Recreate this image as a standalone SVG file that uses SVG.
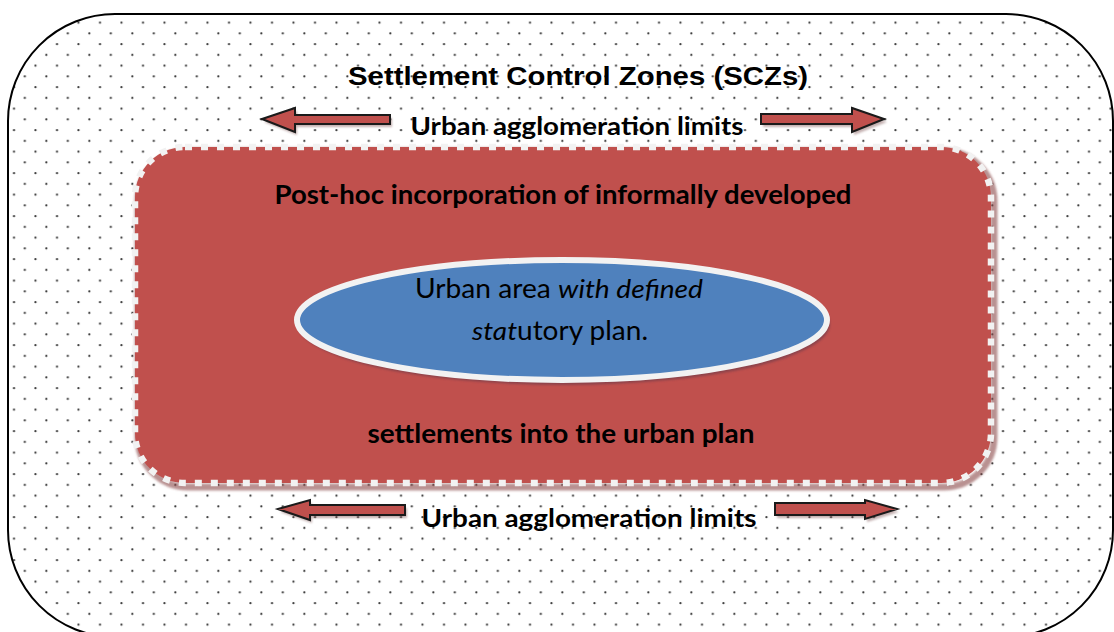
<svg xmlns="http://www.w3.org/2000/svg" width="1114" height="632" viewBox="0 0 1114 632">
<defs>
<pattern id="dots" patternUnits="userSpaceOnUse" x="0" y="0" width="21.5" height="21.5">
<circle cx="14" cy="1.2" r="1.1" fill="#333"/>
<circle cx="3.3" cy="11.95" r="1.1" fill="#333"/>
</pattern>
<filter id="blur" x="-10%" y="-10%" width="120%" height="120%"><feGaussianBlur stdDeviation="1.2"/></filter>
<filter id="blur2" x="-10%" y="-10%" width="120%" height="120%"><feGaussianBlur stdDeviation="1"/></filter>
</defs>
<style>
.b{font-family:Lato,"Liberation Sans",sans-serif;font-weight:bold;fill:#000}
.t{font-family:"Liberation Sans",Arial,sans-serif;font-weight:bold;fill:#000}
.r{font-family:Lato,"Liberation Sans",sans-serif;fill:#000}
.arr{fill:#c0504d;stroke:#1a1a1a;stroke-width:2;stroke-linejoin:miter}
.arrs{fill:#7a5050;opacity:0.45;filter:url(#blur2)}
</style>
<g id="outer">
<rect x="8" y="14" width="1105" height="623" rx="107" ry="107" fill="#fff"/>
<rect x="8" y="14" width="1105" height="623" rx="107" ry="107" fill="url(#dots)" stroke="#000" stroke-width="2"/>
<text class="t" x="578" y="85" font-size="26" text-anchor="middle" textLength="460" lengthAdjust="spacingAndGlyphs">Settlement Control Zones (SCZs)</text>
</g>
<g id="red-zone">
<rect x="138" y="151" width="856" height="336" rx="50" ry="50" fill="none" stroke="#8a4a4a" stroke-opacity="0.6" stroke-width="7" filter="url(#blur)"/>
<rect x="135" y="147" width="856" height="336" rx="50" ry="50" fill="#c0504d"/>
<rect x="135" y="147" width="856" height="336" rx="50" ry="50" fill="none" stroke="#f2f2f2" stroke-width="6.5" stroke-dasharray="7 9"/>
<text class="b" x="563" y="204" font-size="26" text-anchor="middle" textLength="577" lengthAdjust="spacingAndGlyphs">Post-hoc incorporation of informally developed</text>
<text class="b" x="561" y="443" font-size="26" text-anchor="middle" textLength="387" lengthAdjust="spacingAndGlyphs">settlements into the urban plan</text>
</g>
<g id="urban-area">
<ellipse cx="564" cy="324" rx="266" ry="61" fill="#6a3a4a" opacity="0.6" filter="url(#blur)"/>
<ellipse cx="562" cy="320" rx="265" ry="60" fill="#4f81bd" stroke="#f2f2f2" stroke-width="6"/>
<text class="r" x="559" y="298" font-size="26" text-anchor="middle" textLength="288" lengthAdjust="spacingAndGlyphs">Urban area <tspan font-style="italic">with defined</tspan></text>
<text class="r" x="560" y="340" font-size="26" text-anchor="middle" textLength="176" lengthAdjust="spacingAndGlyphs"><tspan font-style="italic">stat</tspan>utory plan.</text>
</g>
<g id="connectors">
<path class="arrs" d="M264,122 L297,111 L297,118 L392,118 L392,127 L297,127 L297,135 Z"/>
<path class="arr" d="M262,119 L295,108 L295,115 L390,115 L390,124 L295,124 L295,132 Z"/>
<path class="arrs" d="M887,122 L854,111 L854,117 L763,117 L763,127 L854,127 L854,135 Z"/>
<path class="arr" d="M884,119 L852,108 L852,114 L761,114 L761,124 L852,124 L852,132 Z"/>
<path class="arrs" d="M280,512 L312,503 L312,508 L407,508 L407,518 L312,518 L312,523 Z"/>
<path class="arr" d="M278,509 L310,500 L310,505 L405,505 L405,515 L310,515 L310,520 Z"/>
<path class="arrs" d="M899,512 L867,503 L867,506 L777,506 L777,518 L867,518 L867,522 Z"/>
<path class="arr" d="M897,509 L865,500 L865,503 L775,503 L775,515 L865,515 L865,519 Z"/>
<text class="b" x="577" y="135" font-size="25.5" text-anchor="middle" textLength="333" lengthAdjust="spacingAndGlyphs">Urban agglomeration limits</text>
<text class="b" x="589" y="527" font-size="25.5" text-anchor="middle" textLength="335" lengthAdjust="spacingAndGlyphs">Urban agglomeration limits</text>
</g>
</svg>
